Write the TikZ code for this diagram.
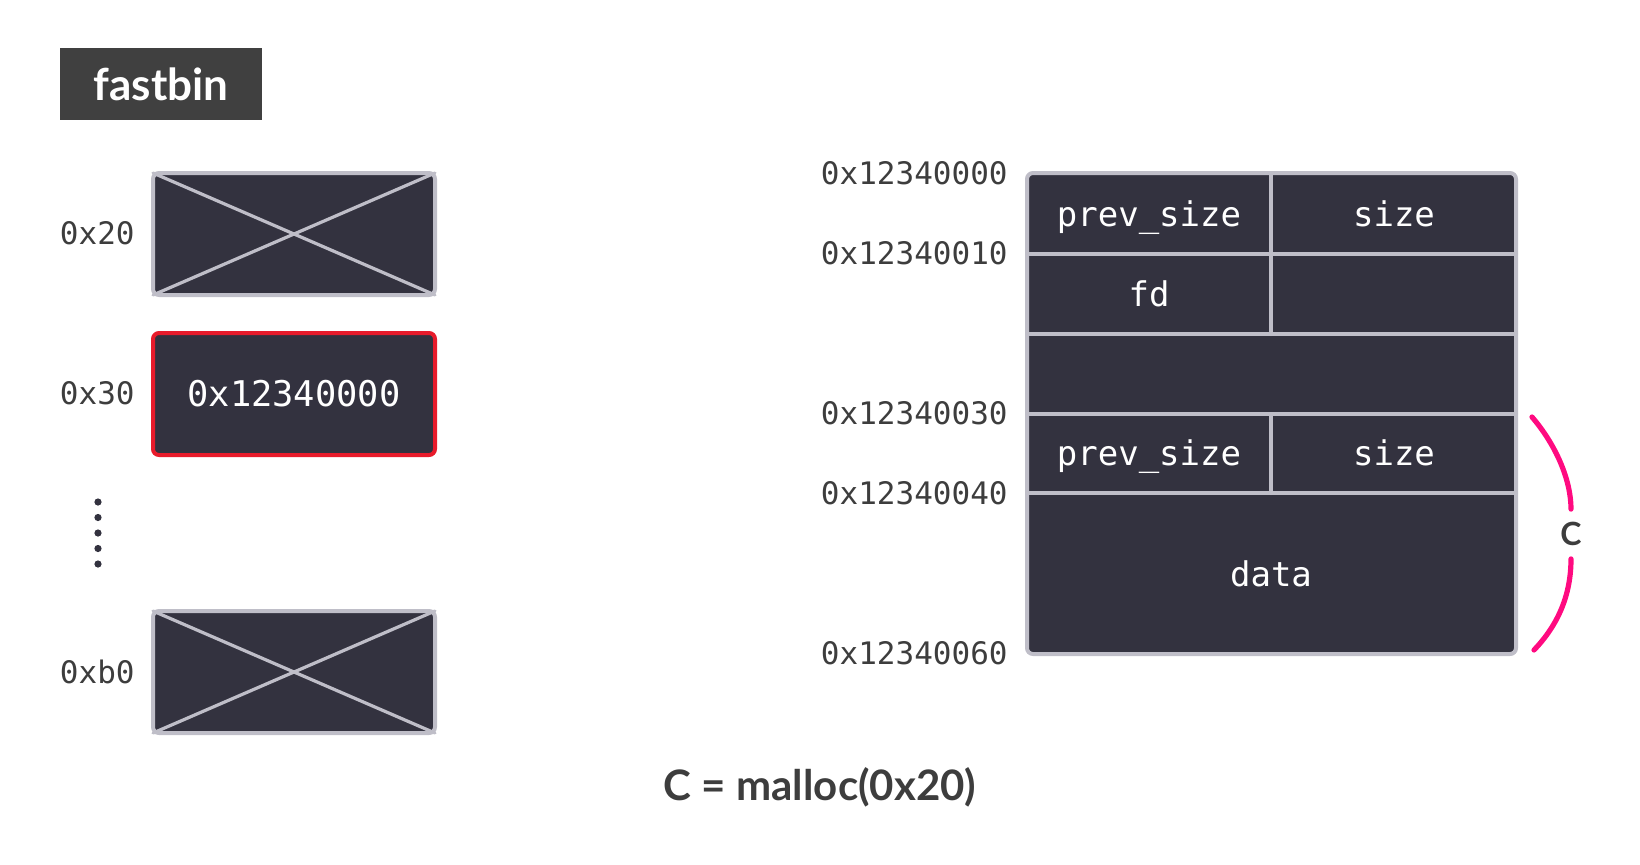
\documentclass[tikz,border=0pt]{standalone}
\usepackage{fontspec}
\setsansfont{Lato}
\setmonofont{DejaVu Sans Mono}
\usepackage{tikz}

\definecolor{cellfill}{HTML}{33323F}
\definecolor{cellline}{HTML}{BFBEC8}
\definecolor{freered}{HTML}{E81B2B}
\definecolor{bracketpink}{HTML}{FF0A80}
\definecolor{labelgray}{HTML}{3D3D3D}
\definecolor{headfill}{HTML}{404040}

\tikzset{
  addr/.style={text=labelgray, font=\ttfamily\fontsize{15.5}{16}\selectfont, inner sep=0pt},
  celltext/.style={text=white, font=\ttfamily\fontsize{17}{18}\selectfont, inner sep=0pt,
    text height=12.4pt, text depth=0pt},
  binbox/.style={draw=cellline, fill=cellfill, line width=2pt, rounded corners=3pt},
}

\begin{document}
\begin{tikzpicture}[x=0.5pt, y=-0.5pt, line join=round, line cap=round]
  \useasboundingbox (0,0) rectangle (1640,864);
  \def\bx{153}
  \def\bw{282}
  \def\bh{122}

  % fastbin heading
  \fill[headfill] (60,48) rectangle (262,120);
  \node[text=white, font=\sffamily\bfseries\fontsize{22}{24}\selectfont, inner sep=0pt] (head) at (161,84) {fastbin};

  % bin 0x20 (empty)
  \draw[binbox] (\bx,173) rectangle +(\bw,\bh);
  \draw[cellline, line width=1.6pt] (\bx,173) -- ++(\bw,\bh) (\bx,173+\bh) -- ++(\bw,-\bh);
  \node[addr, anchor=east] (l20) at (135,233) {0x20};

  % bin 0x30 (points to chunk)
  \draw[binbox, draw=freered] (\bx,333) rectangle +(\bw,\bh);
  \node[celltext, font=\ttfamily\fontsize{17.7}{18}\selectfont] (head30) at (\bx+\bw/2,394) {0x12340000};
  \node[addr, anchor=east] (l30) at (135,393) {0x30};

  % dots
  \foreach \i in {0,...,4}
    \fill[cellfill] (98,502+15.5*\i) circle (1.8pt);

  % bin 0xb0 (empty)
  \draw[binbox] (\bx,611) rectangle +(\bw,\bh);
  \draw[cellline, line width=1.6pt] (\bx,611) -- ++(\bw,\bh) (\bx,611+\bh) -- ++(\bw,-\bh);
  \node[addr, anchor=east] (lb0) at (135,672) {0xb0};

  % heap chunks
  \def\hl{1027}
  \def\hr{1516}
  \def\hm{1271}
  \draw[binbox] (\hl,173) rectangle (\hr,654);
  \draw[cellline, line width=2pt] (\hl,254) -- (\hr,254) (\hl,334) -- (\hr,334)
    (\hl,414) -- (\hr,414) (\hl,493) -- (\hr,493);
  \draw[cellline, line width=2pt] (\hm,173) -- (\hm,334) (\hm,414) -- (\hm,493);

  \node[celltext] (ps1) at (1149,214) {prev\_size};
  \node[celltext] (sz1) at (1394,214) {size};
  \node[celltext] (fd1) at (1149,294) {fd};
  \node[celltext] (ps2) at (1149,453) {prev\_size};
  \node[celltext] (sz2) at (1394,453) {size};
  \node[celltext] (data) at (1271,574) {data};

  % addresses
  \node[addr, anchor=east] (a00) at (1008,173) {0x12340000};
  \node[addr, anchor=east] (a10) at (1008,253) {0x12340010};
  \node[addr, anchor=east] (a30) at (1008,413) {0x12340030};
  \node[addr, anchor=east] (a40) at (1008,493) {0x12340040};
  \node[addr, anchor=east] (a60) at (1008,653) {0x12340060};

  % bracket for C
  \coordinate (ctop) at (1532,417);
  \coordinate (cbot) at (1534,650);
  \node[text=labelgray, font=\sffamily\bfseries\fontsize{16}{16}\selectfont, minimum height=24.5pt, inner sep=0pt] (clab) at (1571,534) {C};
  \draw[bracketpink, line width=2.6pt] (ctop) .. controls (1556,445) and (1571,480) .. (clab.north);
  \draw[bracketpink, line width=2.6pt] (clab.south) .. controls (1571,595) and (1558,625) .. (cbot);

  % caption
  \node[text=labelgray, font=\sffamily\bfseries\fontsize{21}{24}\selectfont, inner sep=0pt] (cap) at (820,787) {C = malloc(0x20)};
\end{tikzpicture}
\end{document}
